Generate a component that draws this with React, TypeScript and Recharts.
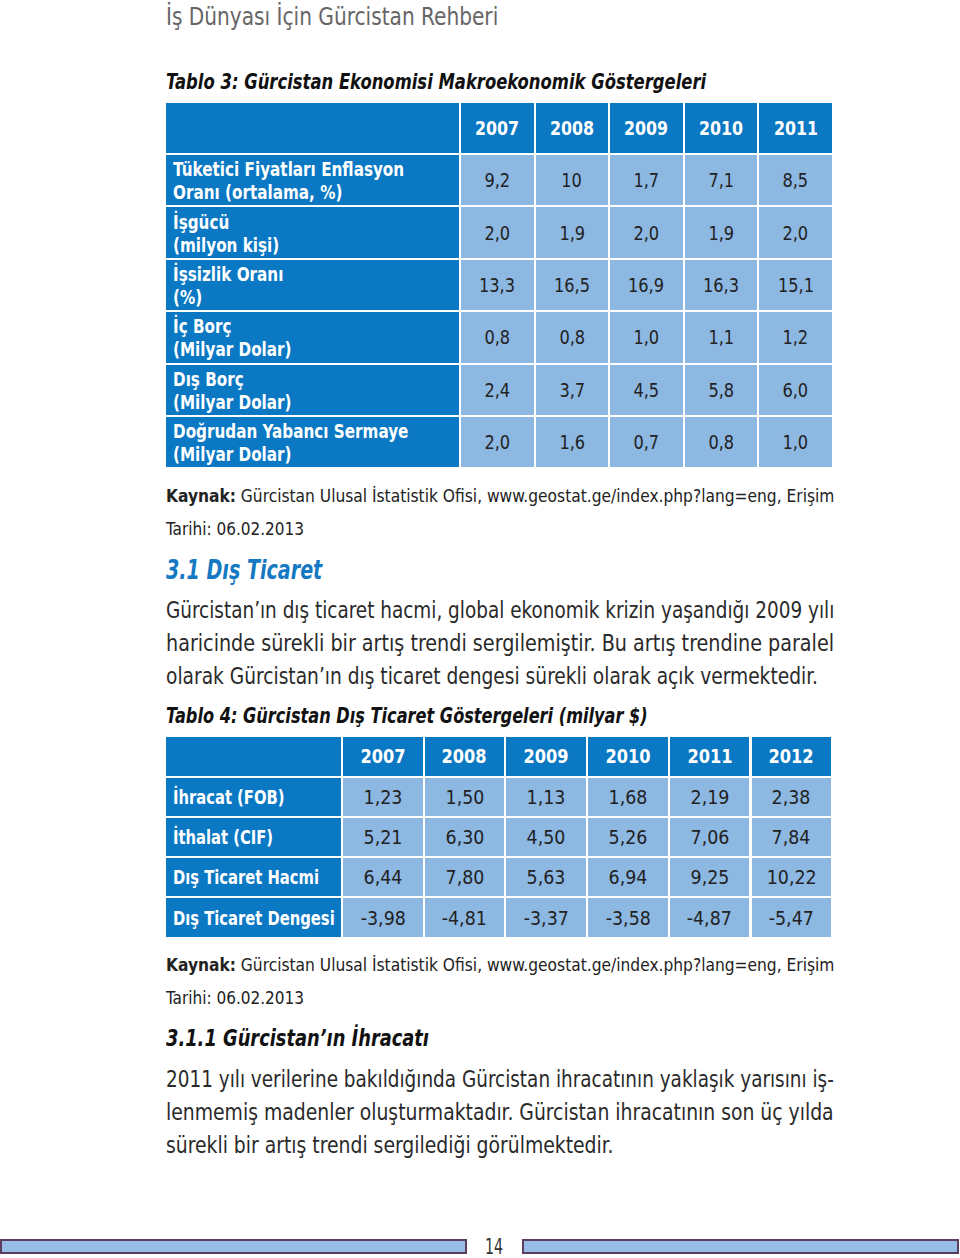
import React, { useLayoutEffect, useRef, useState } from "react";
import { Surface, Rectangle } from "recharts";

const FONT = '"DejaVu Sans Condensed", "DejaVu Sans", sans-serif';
const DARK = "#0b78c3";
const LIGHT = "#8cb8e2";

const pageTitle = "İş Dünyası İçin Gürcistan Rehberi";
const table3Title = "Tablo 3: Gürcistan Ekonomisi Makroekonomik Göstergeleri";
const table3Years = ["2007", "2008", "2009", "2010", "2011"];
const table3Labels = [
  ["Tüketici Fiyatları Enflasyon", "Oranı (ortalama, %)"],
  ["İşgücü", "(milyon kişi)"],
  ["İşsizlik Oranı", "(%)"],
  ["İç Borç", "(Milyar Dolar)"],
  ["Dış Borç", "(Milyar Dolar)"],
  ["Doğrudan Yabancı Sermaye", "(Milyar Dolar)"],
];
const table3Values = [
  ["9,2", "10", "1,7", "7,1", "8,5"],
  ["2,0", "1,9", "2,0", "1,9", "2,0"],
  ["13,3", "16,5", "16,9", "16,3", "15,1"],
  ["0,8", "0,8", "1,0", "1,1", "1,2"],
  ["2,4", "3,7", "4,5", "5,8", "6,0"],
  ["2,0", "1,6", "0,7", "0,8", "1,0"],
];

const table4Title = "Tablo 4: Gürcistan Dış Ticaret Göstergeleri (milyar $)";
const table4Years = ["2007", "2008", "2009", "2010", "2011", "2012"];
const table4Labels = [["İhracat (FOB)"], ["İthalat (CIF)"], ["Dış Ticaret Hacmi"], ["Dış Ticaret Dengesi"]];
const table4Values = [
  ["1,23", "1,50", "1,13", "1,68", "2,19", "2,38"],
  ["5,21", "6,30", "4,50", "5,26", "7,06", "7,84"],
  ["6,44", "7,80", "5,63", "6,94", "9,25", "10,22"],
  ["-3,98", "-4,81", "-3,37", "-3,58", "-4,87", "-5,47"],
];

const sourceLabel = "Kaynak:";
const sourceText = "Gürcistan Ulusal İstatistik Ofisi, www.geostat.ge/index.php?lang=eng, Erişim";
const dateText = "Tarihi: 06.02.2013";
const section31 = "3.1 Dış Ticaret";
const para1 = [
  "Gürcistan’ın dış ticaret hacmi, global ekonomik krizin yaşandığı 2009 yılı",
  "haricinde sürekli bir artış trendi sergilemiştir. Bu artış trendine paralel",
  "olarak Gürcistan’ın dış ticaret dengesi sürekli olarak açık vermektedir.",
];
const para1Widths = [668, 668, 652];
const section311 = "3.1.1 Gürcistan’ın İhracatı";
const para2 = [
  "2011 yılı verilerine bakıldığında Gürcistan ihracatının yaklaşık yarısını iş-",
  "lenmemiş madenler oluşturmaktadır. Gürcistan ihracatının son üç yılda",
  "sürekli bir artış trendi sergilediği görülmektedir.",
];
const para2Widths = [668, 668, 448];
const pageNumber = "14";

function Fit({
  children,
  width,
  scale,
  origin = "left center",
  style = {},
}: {
  children: React.ReactNode;
  width?: number;
  scale?: number;
  origin?: string;
  style?: React.CSSProperties;
}) {
  const ref = useRef<HTMLSpanElement>(null);
  const [s, setS] = useState(scale ?? 1);
  useLayoutEffect(() => {
    if (width && ref.current) {
      const w = ref.current.offsetWidth;
      if (w > 0) setS(width / w);
    }
  }, [width]);
  return (
    <span
      ref={ref}
      style={{ display: "inline-block", whiteSpace: "nowrap", transform: `scaleX(${s})`, transformOrigin: origin, ...style }}
    >
      {children}
    </span>
  );
}

type TableProps = {
  x: number;
  y: number;
  labelW: number;
  colW: number;
  headH: number;
  rowH: number;
  years: string[];
  labels: string[][];
  values: string[][];
  labelSize: number;
  labelScale: number;
  valueSize: number;
  valueScale: number;
  yearScale: number;
};

function DataTable(p: TableProps) {
  const cells: React.ReactNode[] = [];
  const g = 2;
  cells.push(
    <div key="h0" style={{ position: "absolute", left: 0, top: 0, width: p.labelW - g, height: p.headH - g, background: DARK }} />
  );
  p.years.forEach((yr, i) => {
    cells.push(
      <div
        key={"h" + yr}
        style={{
          position: "absolute",
          left: p.labelW + i * p.colW,
          top: 0,
          width: p.colW - g,
          height: p.headH - g,
          background: DARK,
          color: "#fff",
          fontWeight: 700,
          fontSize: p.valueSize,
          display: "flex",
          alignItems: "center",
          justifyContent: "center",
        }}
      >
        <Fit scale={p.yearScale} origin="center center">{yr}</Fit>
      </div>
    );
  });
  p.labels.forEach((lab, r) => {
    const top = p.headH + r * p.rowH;
    cells.push(
      <div
        key={"l" + r}
        style={{
          position: "absolute",
          left: 0,
          top,
          width: p.labelW - g,
          height: p.rowH - g,
          background: DARK,
          color: "#fff",
          fontWeight: 700,
          fontSize: p.labelSize,
          lineHeight: lab.length > 1 ? "23px" : "normal",
          display: "flex",
          flexDirection: "column",
          justifyContent: "center",
          alignItems: "flex-start",
          paddingLeft: 7,
          paddingTop: lab.length > 1 ? 2 : 0,
          boxSizing: "border-box",
        }}
      >
        {lab.map((t, k) => (
          <Fit key={k} scale={p.labelScale}>{t}</Fit>
        ))}
      </div>
    );
    p.values[r].forEach((v, c) => {
      cells.push(
        <div
          key={"v" + r + "-" + c}
          style={{
            position: "absolute",
            left: p.labelW + c * p.colW,
            top,
            width: p.colW - g,
            height: p.rowH - g,
            background: LIGHT,
            color: "#222",
            fontSize: p.valueSize,
            display: "flex",
            alignItems: "center",
            justifyContent: "center",
          }}
        >
          <Fit scale={p.valueScale} origin="center center">{v}</Fit>
        </div>
      );
    });
  });
  return <div style={{ position: "absolute", left: p.x, top: p.y }}>{cells}</div>;
}

const text = (top: number, size: number, extra: React.CSSProperties = {}): React.CSSProperties => ({
  position: "absolute",
  left: 166,
  top,
  fontSize: size,
  lineHeight: "1",
  whiteSpace: "nowrap",
  ...extra,
});

function Para({ lines, widths, top }: { lines: string[]; widths: number[]; top: number }) {
  return (
    <div style={{ position: "absolute", left: 166, top, fontSize: 23, color: "#2a2a2a", lineHeight: "33px" }}>
      {lines.map((l, i) => (
        <div key={i} style={{ whiteSpace: "nowrap", height: 33 }}>
          <Fit width={widths[i]}>{l}</Fit>
        </div>
      ))}
    </div>
  );
}

function Source({ top }: { top: number }) {
  return (
    <>
      <div style={text(top, 18, { color: "#222" })}>
        <Fit width={668}>
          <b>{sourceLabel}</b> {sourceText}
        </Fit>
      </div>
      <div style={text(top + 33, 18, { color: "#222" })}>
        <Fit width={138}>{dateText}</Fit>
      </div>
    </>
  );
}

export default function App() {
  return (
    <div style={{ position: "absolute", left: 0, top: 0, width: 960, height: 1258, background: "#fff", fontFamily: FONT, overflow: "hidden" }}>
      <div style={text(5, 24, { color: "#666" })}>
        <Fit width={332}>{pageTitle}</Fit>
      </div>
      <div style={text(71, 22, { fontWeight: 700, fontStyle: "italic", color: "#111" })}>
        <Fit width={540}>{table3Title}</Fit>
      </div>
      <DataTable
        x={166}
        y={103}
        labelW={295}
        colW={74.6}
        headH={52}
        rowH={52.4}
        years={table3Years}
        labels={table3Labels}
        values={table3Values}
        labelSize={19}
        labelScale={0.89}
        valueSize={20}
        valueScale={0.9}
        yearScale={0.88}
      />
      <Source top={487} />
      <div style={text(557, 26, { fontWeight: 700, fontStyle: "italic", color: "#1479c2" })}>
        <Fit width={156}>{section31}</Fit>
      </div>
      <Para lines={para1} widths={para1Widths} top={594} />
      <div style={text(705, 22, { fontWeight: 700, fontStyle: "italic", color: "#111" })}>
        <Fit width={482}>{table4Title}</Fit>
      </div>
      <DataTable
        x={166}
        y={737}
        labelW={177}
        colW={81.7}
        headH={40.5}
        rowH={40.3}
        years={table4Years}
        labels={table4Labels}
        values={table4Values}
        labelSize={20}
        labelScale={0.82}
        valueSize={20}
        valueScale={0.97}
        yearScale={0.9}
      />
      <Source top={956} />
      <div style={text(1027, 23, { fontWeight: 700, fontStyle: "italic", color: "#111" })}>
        <Fit width={263}>{section311}</Fit>
      </div>
      <Para lines={para2} widths={para2Widths} top={1063} />
      <div style={{ position: "absolute", left: 0, top: 1236 }}>
        <Surface width={960} height={22}>
          <Rectangle x={1} y={4} width={465} height={13} fill="#96bde6" stroke="#5b3d5e" strokeWidth={2} />
          <Rectangle x={523} y={4} width={435} height={13} fill="#96bde6" stroke="#5b3d5e" strokeWidth={2} />
        </Surface>
      </div>
      <div style={{ position: "absolute", left: 485, top: 1237, fontSize: 21, color: "#333", lineHeight: "1" }}>
        <Fit width={18}>{pageNumber}</Fit>
      </div>
    </div>
  );
}
